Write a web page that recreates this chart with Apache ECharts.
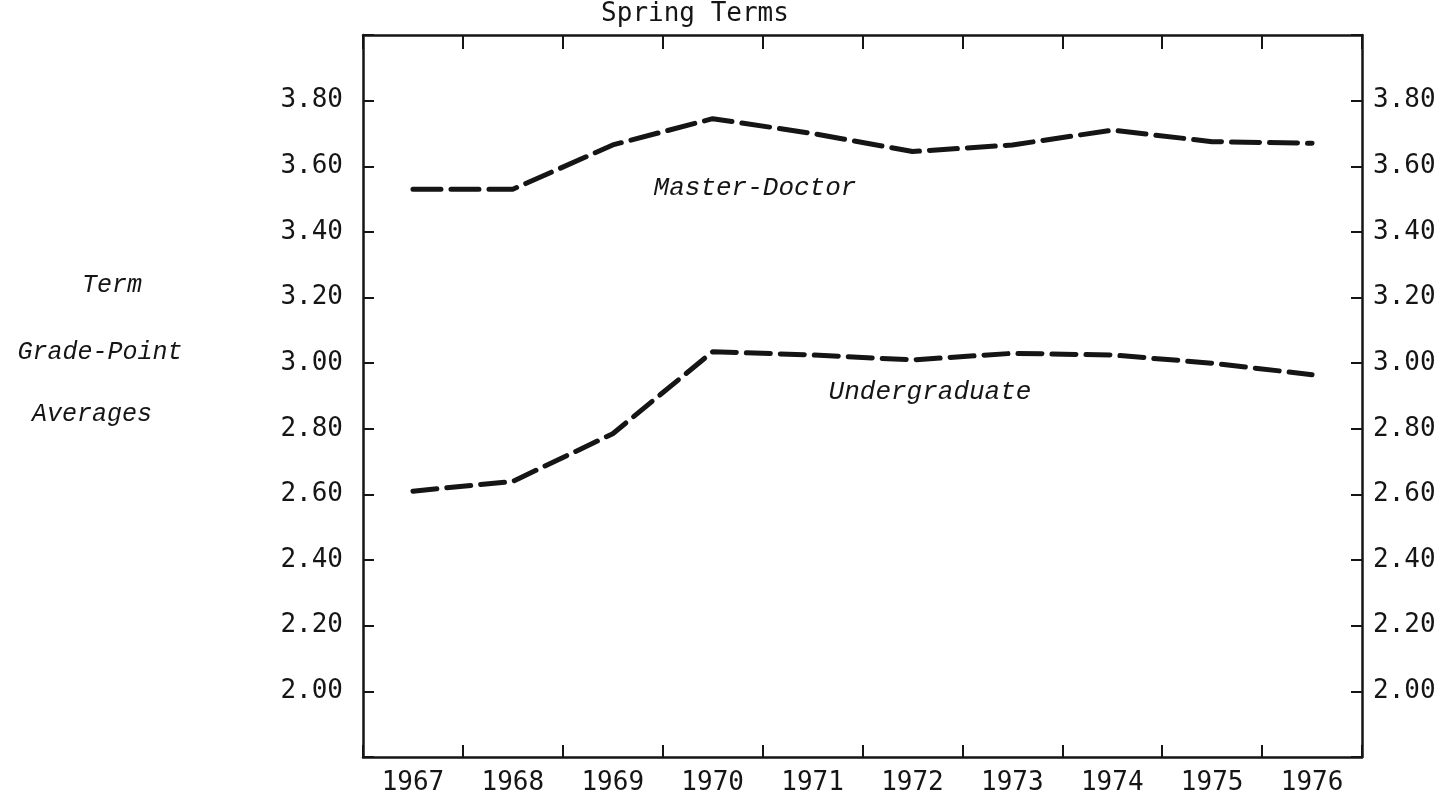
<!DOCTYPE html>
<html>
<head>
<meta charset="utf-8">
<script src="https://cdn.jsdelivr.net/npm/echarts@6/dist/echarts.min.js"></script>
<style>
html,body{margin:0;padding:0;background:#fff;}
#chart{width:1454px;height:799px;}
</style>
</head>
<body>
<div id="chart"></div>
<script>
// ---- data ----
var years = ['1967','1968','1969','1970','1971','1972','1973','1974','1975','1976'];
var masterDoctor = [3.53, 3.53, 3.665, 3.745, 3.70, 3.645, 3.665, 3.71, 3.675, 3.67];
var undergraduate = [2.61, 2.64, 2.785, 3.035, 3.025, 3.01, 3.03, 3.025, 3.00, 2.965];
var yTickLabels = ['2.00','2.20','2.40','2.60','2.80','3.00','3.20','3.40','3.60','3.80'];
var titleText = 'Spring Terms';
var yTitleLines = ['Term', 'Grade-Point', 'Averages'];
var seriesNames = ['Master-Doctor', 'Undergraduate'];

var MONO = '"DejaVu Sans Mono", "Liberation Mono", monospace';
var ITAL = '"Liberation Mono", "DejaVu Sans Mono", monospace';
var INK = '#151515';

function yFmt(v) {
  var s = Number(v).toFixed(2);
  return yTickLabels.indexOf(s) >= 0 ? s : '';
}

var chart = echarts.init(document.getElementById('chart'), null, {renderer: 'canvas'});

var yAxisCommon = {
  type: 'value', min: 1.8, max: 4.0, interval: 0.2,
  splitLine: {show: false},
  axisLine: {show: true, lineStyle: {color: INK, width: 2.5}},
  axisTick: {show: true, inside: true, length: 11, lineStyle: {color: INK, width: 2}},
  axisLabel: {formatter: yFmt, fontFamily: MONO, fontSize: 26, color: INK, showMinLabel: true, showMaxLabel: true}
};

var option = {
  backgroundColor: '#ffffff',
  animation: false,
  grid: {left: 363, right: 92, top: 35, bottom: 42, containLabel: false},
  xAxis: [
    {
      type: 'category', data: years, position: 'bottom', boundaryGap: true,
      axisLine: {show: true, lineStyle: {color: INK, width: 2.5}},
      axisTick: {show: true, inside: true, length: 12, interval: 0, lineStyle: {color: INK, width: 2}},
      axisLabel: {interval: 0, margin: 13, fontFamily: MONO, fontSize: 26, color: INK},
      splitLine: {show: false}
    },
    {
      type: 'category', data: years, position: 'top', boundaryGap: true,
      axisLine: {show: true, lineStyle: {color: INK, width: 2.5}},
      axisTick: {show: true, inside: true, length: 14, interval: 0, lineStyle: {color: INK, width: 2}},
      axisLabel: {show: false},
      splitLine: {show: false}
    }
  ],
  yAxis: [
    Object.assign({}, yAxisCommon, {position: 'left', axisLabel: Object.assign({}, yAxisCommon.axisLabel, {margin: 20})}),
    Object.assign({}, yAxisCommon, {position: 'right', axisLabel: Object.assign({}, yAxisCommon.axisLabel, {margin: 11})})
  ],
  series: [
    {
      name: seriesNames[0], type: 'line', data: masterDoctor, xAxisIndex: 0, yAxisIndex: 0,
      showSymbol: false, symbol: 'none', smooth: false,
      lineStyle: {color: INK, width: 5, type: [28, 10], cap: 'round'}
    },
    {
      name: seriesNames[1], type: 'line', data: undergraduate, xAxisIndex: 0, yAxisIndex: 0,
      showSymbol: false, symbol: 'none', smooth: false,
      lineStyle: {color: INK, width: 5, type: [24, 10], cap: 'round'}
    }
  ],
  graphic: [
    {type: 'text', x: 695, y: 14, style: {text: titleText, font: '26px ' + MONO, fill: INK, align: 'center', verticalAlign: 'middle'}},
    {type: 'text', x: 112, y: 285, style: {text: yTitleLines[0], font: 'italic 25px ' + ITAL, fill: INK, align: 'center', verticalAlign: 'middle'}},
    {type: 'text', x: 100, y: 352, style: {text: yTitleLines[1], font: 'italic 25px ' + ITAL, fill: INK, align: 'center', verticalAlign: 'middle'}},
    {type: 'text', x: 92, y: 414, style: {text: yTitleLines[2], font: 'italic 25px ' + ITAL, fill: INK, align: 'center', verticalAlign: 'middle'}},
    {type: 'text', x: 755, y: 188, style: {text: seriesNames[0], font: 'italic 26px ' + ITAL, fill: INK, align: 'center', verticalAlign: 'middle'}},
    {type: 'text', x: 930, y: 392, style: {text: seriesNames[1], font: 'italic 26px ' + ITAL, fill: INK, align: 'center', verticalAlign: 'middle'}}
  ]
};
chart.setOption(option);
</script>
</body>
</html>
